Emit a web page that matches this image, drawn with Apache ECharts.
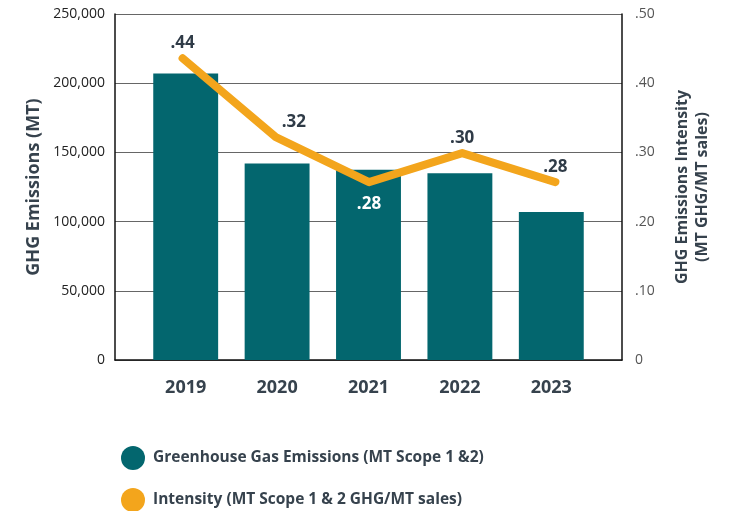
<!DOCTYPE html>
<html>
<head>
<meta charset="utf-8">
<script src="https://cdn.jsdelivr.net/npm/echarts@6/dist/echarts.min.js"></script>
<style>
  html, body { margin: 0; padding: 0; background: #fff; }
  #main { width: 729px; height: 511px; }
</style>
</head>
<body>
<div id="main"></div>
<script>
var years = ['2019', '2020', '2021', '2022', '2023'];
var emissions = [207000, 142000, 137500, 135000, 107000];
var intensity = [0.436, 0.322, 0.257, 0.299, 0.257];
var intensityLabels = ['.44', '.32', '.28', '.30', '.28'];
var rightTicks = ['0', '.10', '.20', '.30', '.40', '.50'];

var teal = '#03666e';
var orange = '#f3a51c';
var textDark = '#36424d';
var font = 'Open Sans';
var barName = 'Greenhouse Gas Emissions (MT Scope 1 &2)';
var lineName = 'Intensity (MT Scope 1 & 2 GHG/MT sales)';

var chart = echarts.init(document.getElementById('main'));

// grid 0 = frame + axes, grid 1 = bars, grid 2 = line (categories sit inset from the frame)
var option = {
    animation: false,
    textStyle: { fontFamily: font },
    grid: [
        { left: 115, right: 107, top: 14, bottom: 151 },
        { left: 140, right: 132, top: 14, bottom: 151 },
        { left: 136, right: 127, top: 14, bottom: 151 }
    ],
    legend: [
        {
            left: 116, top: 441, itemWidth: 24, itemHeight: 24, icon: 'circle',
            textStyle: { fontFamily: font, fontSize: 15.5, fontWeight: 'bold', color: textDark, padding: [0, 0, 0, 3] },
            data: [barName]
        },
        {
            left: 116, top: 483, itemWidth: 24, itemHeight: 24, icon: 'circle',
            textStyle: { fontFamily: font, fontSize: 15.5, fontWeight: 'bold', color: textDark, padding: [0, 0, 0, 3] },
            data: [lineName]
        }
    ],
    xAxis: [
        {
            gridIndex: 0,
            type: 'category',
            data: years,
            axisLine: { lineStyle: { color: '#111', width: 1.5 } },
            axisTick: { show: false },
            axisLabel: { show: false }
        },
        {
            gridIndex: 1,
            type: 'category',
            data: years,
            axisLine: { show: false },
            axisTick: { show: false },
            axisLabel: { margin: 19, fontSize: 18, fontWeight: 'bold', color: textDark }
        },
        {
            gridIndex: 2,
            type: 'category',
            data: years,
            show: false
        }
    ],
    yAxis: [
        {
            gridIndex: 0,
            type: 'value',
            min: 0,
            max: 250000,
            interval: 50000,
            name: 'GHG Emissions (MT)',
            nameLocation: 'middle',
            nameRotate: 90,
            nameGap: 72,
            nameTextStyle: { fontSize: 18, fontWeight: 'bold', color: textDark },
            axisLine: { show: true, lineStyle: { color: '#111', width: 1.5 } },
            axisTick: { show: false },
            axisLabel: {
                margin: 10,
                fontSize: 14,
                color: '#222',
                formatter: function (v) { return v.toLocaleString('en-US'); }
            },
            splitLine: { lineStyle: { color: '#666', width: 1.2 } }
        },
        {
            gridIndex: 0,
            type: 'value',
            min: 0,
            max: 0.5,
            interval: 0.1,
            name: 'GHG Emissions Intensity\n(MT GHG/MT sales)',
            nameLocation: 'middle',
            nameRotate: 90,
            nameGap: 50,
            nameTextStyle: { fontSize: 16, fontWeight: 'bold', color: textDark, lineHeight: 20 },
            axisLine: { show: true, lineStyle: { color: '#111', width: 1.5 } },
            axisTick: { show: false },
            axisLabel: {
                margin: 13,
                fontSize: 14,
                color: '#555',
                formatter: function (v, i) { return rightTicks[i]; }
            },
            splitLine: { show: false }
        },
        { gridIndex: 1, type: 'value', min: 0, max: 250000, show: false },
        { gridIndex: 2, type: 'value', min: 0, max: 0.5, show: false }
    ],
    series: [
        {
            name: barName,
            type: 'bar',
            xAxisIndex: 1,
            yAxisIndex: 2,
            data: emissions,
            barWidth: '71%',
            itemStyle: { color: teal }
        },
        {
            name: lineName,
            type: 'line',
            xAxisIndex: 2,
            yAxisIndex: 3,
            symbol: 'circle',
            symbolSize: 1,
            itemStyle: { color: orange },
            lineStyle: { color: orange, width: 8, cap: 'round', join: 'round' },
            label: {
                show: true,
                position: 'top',
                distance: 6,
                fontSize: 17,
                fontWeight: 'bold',
                color: '#2f3b47',
                formatter: function (p) { return intensityLabels[p.dataIndex]; }
            },
            z: 5,
            data: intensity.map(function (v, i) {
                // 2020 label is nudged right off the steep segment
                if (i === 1) {
                    return { value: v, label: { offset: [18, 0] } };
                }
                // 2021 label sits below the point, in white over the bar
                if (i === 2) {
                    return { value: v, label: { position: 'bottom', distance: 13, color: '#fff' } };
                }
                return v;
            })
        }
    ]
};

chart.setOption(option);
</script>
</body>
</html>
